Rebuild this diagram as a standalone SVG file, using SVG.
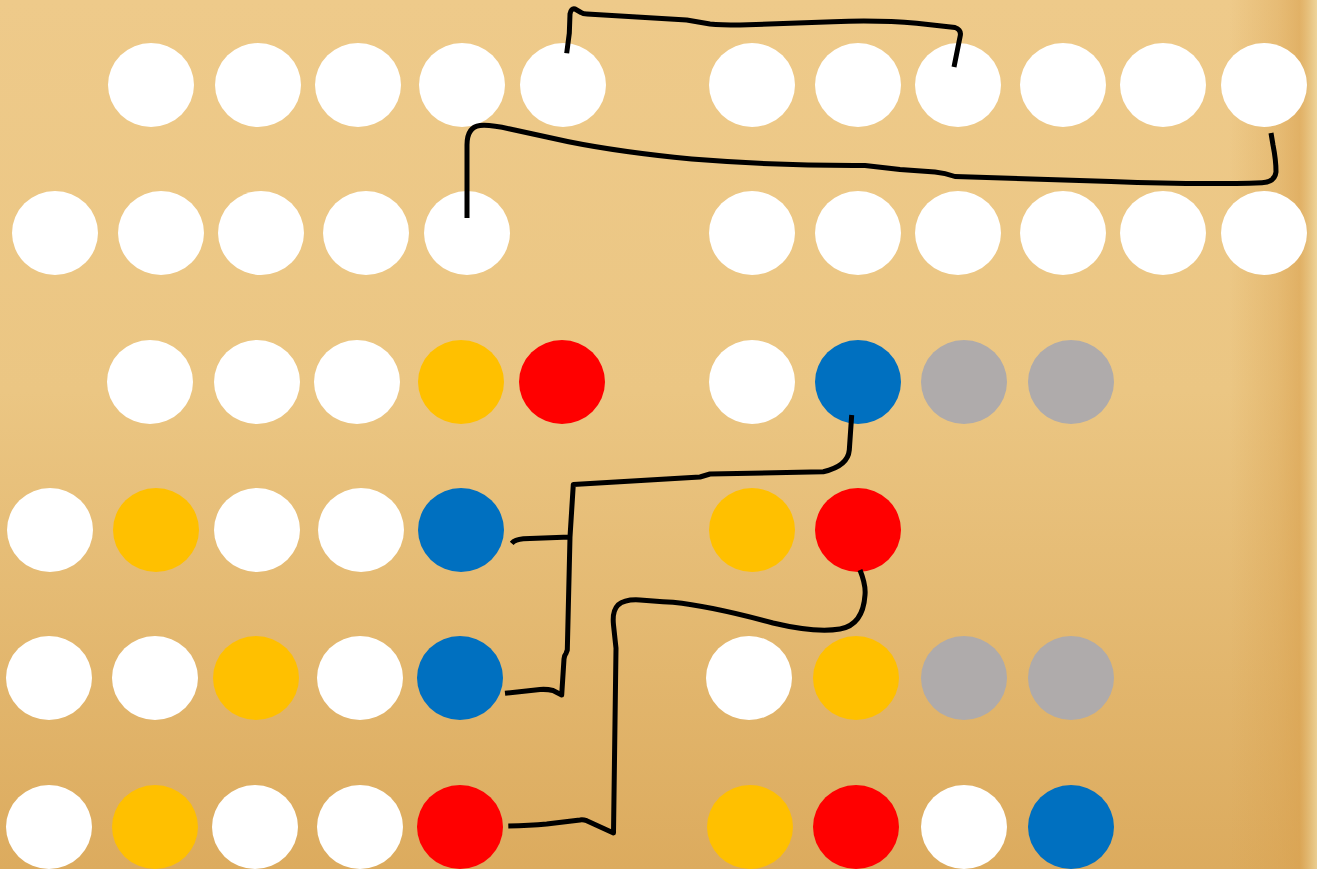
<svg xmlns="http://www.w3.org/2000/svg" width="1317" height="869" viewBox="0 0 1317 869">
<defs>
<linearGradient id="bg" x1="0" y1="0" x2="0" y2="1">
<stop offset="0" stop-color="#EECA8A"/>
<stop offset="0.45" stop-color="#EBC683"/>
<stop offset="1" stop-color="#DCAB5E"/>
</linearGradient>
<linearGradient id="edge" x1="0" y1="0" x2="1" y2="0">
<stop offset="0" stop-color="#D9A14F" stop-opacity="0"/>
<stop offset="0.55" stop-color="#D9A14F" stop-opacity="0.35"/>
<stop offset="0.8" stop-color="#D9A14F" stop-opacity="0.6"/>
<stop offset="1" stop-color="#EED79E" stop-opacity="0.8"/>
</linearGradient>
<style>
.w{fill:#FFFFFF}.y{fill:#FFC000}.r{fill:#FF0000}.b{fill:#0070C0}.g{fill:#AFABAB}
.c{fill:none;stroke:#000;stroke-width:5;stroke-linejoin:round}
</style>
</defs>
<rect width="1317" height="869" fill="url(#bg)"/>
<rect x="1230" width="87" height="869" fill="url(#edge)"/>
<g id="row1">
<ellipse id="n1-1" class="w" cx="151" cy="85" rx="43" ry="42"/>
<ellipse id="n1-2" class="w" cx="258" cy="85" rx="43" ry="42"/>
<ellipse id="n1-3" class="w" cx="358" cy="85" rx="43" ry="42"/>
<ellipse id="n1-4" class="w" cx="462" cy="85" rx="43" ry="42"/>
<ellipse id="n1-5" class="w" cx="563" cy="85" rx="43" ry="42"/>
<ellipse id="n1-6" class="w" cx="752" cy="85" rx="43" ry="42"/>
<ellipse id="n1-7" class="w" cx="858" cy="85" rx="43" ry="42"/>
<ellipse id="n1-8" class="w" cx="958" cy="85" rx="43" ry="42"/>
<ellipse id="n1-9" class="w" cx="1063" cy="85" rx="43" ry="42"/>
<ellipse id="n1-10" class="w" cx="1163" cy="85" rx="43" ry="42"/>
<ellipse id="n1-11" class="w" cx="1264" cy="85" rx="43" ry="42"/>
</g>
<g id="row2">
<ellipse id="n2-1" class="w" cx="55" cy="233" rx="43" ry="42"/>
<ellipse id="n2-2" class="w" cx="161" cy="233" rx="43" ry="42"/>
<ellipse id="n2-3" class="w" cx="261" cy="233" rx="43" ry="42"/>
<ellipse id="n2-4" class="w" cx="366" cy="233" rx="43" ry="42"/>
<ellipse id="n2-5" class="w" cx="467" cy="233" rx="43" ry="42"/>
<ellipse id="n2-6" class="w" cx="752" cy="233" rx="43" ry="42"/>
<ellipse id="n2-7" class="w" cx="858" cy="233" rx="43" ry="42"/>
<ellipse id="n2-8" class="w" cx="958" cy="233" rx="43" ry="42"/>
<ellipse id="n2-9" class="w" cx="1063" cy="233" rx="43" ry="42"/>
<ellipse id="n2-10" class="w" cx="1163" cy="233" rx="43" ry="42"/>
<ellipse id="n2-11" class="w" cx="1264" cy="233" rx="43" ry="42"/>
</g>
<g id="row3">
<ellipse id="n3-1" class="w" cx="150" cy="382" rx="43" ry="42"/>
<ellipse id="n3-2" class="w" cx="257" cy="382" rx="43" ry="42"/>
<ellipse id="n3-3" class="w" cx="357" cy="382" rx="43" ry="42"/>
<ellipse id="n3-4" class="y" cx="461" cy="382" rx="43" ry="42"/>
<ellipse id="n3-5" class="r" cx="562" cy="382" rx="43" ry="42"/>
<ellipse id="n3-6" class="w" cx="752" cy="382" rx="43" ry="42"/>
<ellipse id="n3-7" class="b" cx="858" cy="382" rx="43" ry="42"/>
<ellipse id="n3-8" class="g" cx="964" cy="382" rx="43" ry="42"/>
<ellipse id="n3-9" class="g" cx="1071" cy="382" rx="43" ry="42"/>
</g>
<g id="row4">
<ellipse id="n4-1" class="w" cx="50" cy="530" rx="43" ry="42"/>
<ellipse id="n4-2" class="y" cx="156" cy="530" rx="43" ry="42"/>
<ellipse id="n4-3" class="w" cx="257" cy="530" rx="43" ry="42"/>
<ellipse id="n4-4" class="w" cx="361" cy="530" rx="43" ry="42"/>
<ellipse id="n4-5" class="b" cx="461" cy="530" rx="43" ry="42"/>
<ellipse id="n4-6" class="y" cx="752" cy="530" rx="43" ry="42"/>
<ellipse id="n4-7" class="r" cx="858" cy="530" rx="43" ry="42"/>
</g>
<g id="row5">
<ellipse id="n5-1" class="w" cx="49" cy="678" rx="43" ry="42"/>
<ellipse id="n5-2" class="w" cx="155" cy="678" rx="43" ry="42"/>
<ellipse id="n5-3" class="y" cx="256" cy="678" rx="43" ry="42"/>
<ellipse id="n5-4" class="w" cx="360" cy="678" rx="43" ry="42"/>
<ellipse id="n5-5" class="b" cx="460" cy="678" rx="43" ry="42"/>
<ellipse id="n5-6" class="w" cx="749" cy="678" rx="43" ry="42"/>
<ellipse id="n5-7" class="y" cx="856" cy="678" rx="43" ry="42"/>
<ellipse id="n5-8" class="g" cx="964" cy="678" rx="43" ry="42"/>
<ellipse id="n5-9" class="g" cx="1071" cy="678" rx="43" ry="42"/>
</g>
<g id="row6">
<ellipse id="n6-1" class="w" cx="49" cy="827" rx="43" ry="42"/>
<ellipse id="n6-2" class="y" cx="155" cy="827" rx="43" ry="42"/>
<ellipse id="n6-3" class="w" cx="255" cy="827" rx="43" ry="42"/>
<ellipse id="n6-4" class="w" cx="360" cy="827" rx="43" ry="42"/>
<ellipse id="n6-5" class="r" cx="460" cy="827" rx="43" ry="42"/>
<ellipse id="n6-6" class="y" cx="750" cy="827" rx="43" ry="42"/>
<ellipse id="n6-7" class="r" cx="856" cy="827" rx="43" ry="42"/>
<ellipse id="n6-8" class="w" cx="964" cy="827" rx="43" ry="42"/>
<ellipse id="n6-9" class="b" cx="1071" cy="827" rx="43" ry="42"/>
</g>
<g id="connectors">
<path class="c" d="M566.7,53.3 L569.3,33.3 L570,14 Q571,8 575,9 L581,12.5 Q583,14 587,14 L686.7,20 L710,24 Q720,25 740,25 L833,21.7 Q880,20 916.7,23.3 L955,27.5 Q962,30 960,37 L954,67"/>
<path class="c" d="M467,218 L467,145 Q467,127 480,125.5 Q490,124.5 510,129 L568.6,141.7 Q620,152 691.7,159 Q780,166 865,165.5 L900,169.5 L935,172 Q945,173 955,176.5 L1111,181.5 Q1200,185 1262,182.7 Q1275,182 1276,172 Q1276,160 1273,145 L1271,133"/>
<path class="c" d="M851.7,415 L849.3,450 Q848,466 823.3,471.7 L710,474 L700,477 L573.3,484.5 L570,537 L523.3,538.8 Q515,539.5 511.7,543.3 M570,537 L567.3,650 L566,653.3 Q564.5,655 564,659 L561.7,695 L553,690.5 Q547,689 540,689.5 L505,693.3"/>
<path class="c" d="M860,570 Q866,585 865,595 Q863,625 840,629 Q815,633 773,623 Q710,606 673,602.3 L663,601.7 L640,600 Q625,599 618,605 Q612,611 613.5,625 L616,648.3 L613.5,833 L586.7,820.7 Q583,819.5 580,820 L546.7,824 Q530,825.5 508.3,826"/>
</g>
</svg>
